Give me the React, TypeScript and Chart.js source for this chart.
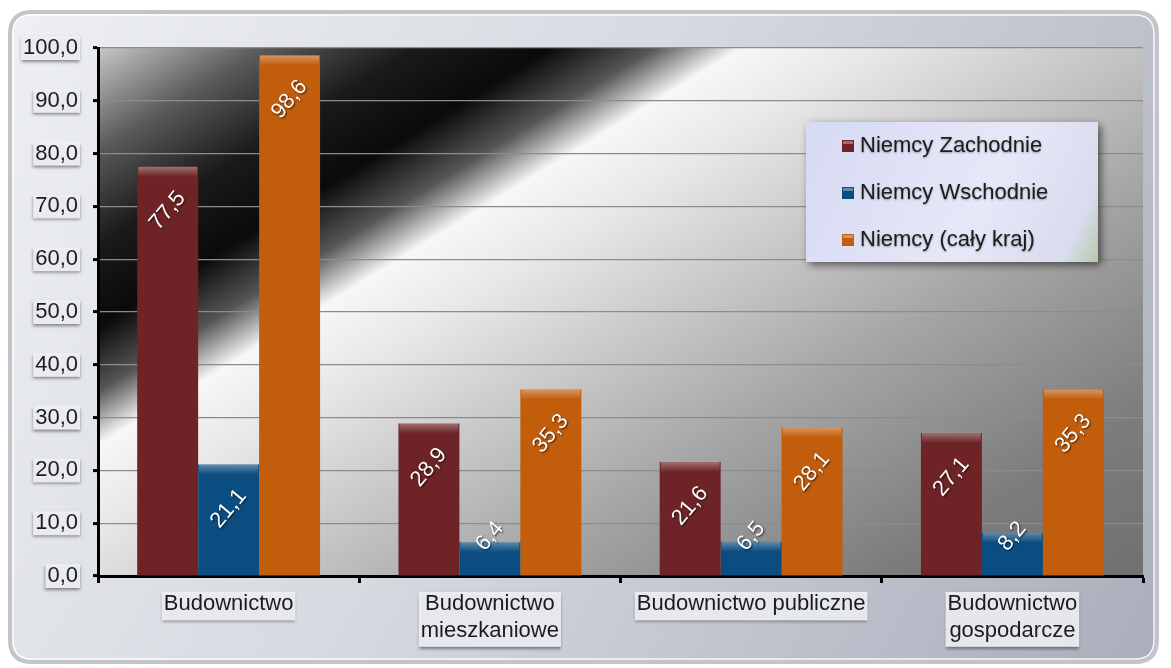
import React, { useEffect, useRef } from "react";
import { Chart, registerables } from "chart.js";

Chart.register(...registerables);

const categories: (string | string[])[] = [
  "Budownictwo",
  ["Budownictwo", "mieszkaniowe"],
  "Budownictwo publiczne",
  ["Budownictwo", "gospodarcze"],
];
const seriesNames = ["Niemcy Zachodnie", "Niemcy Wschodnie", "Niemcy (cały kraj)"];
const westValues = [77.5, 28.9, 21.6, 27.1];
const eastValues = [21.1, 6.4, 6.5, 8.2];
const totalValues = [98.6, 35.3, 28.1, 35.3];
const seriesColors = ["#6e2426", "#0b4d80", "#c25d0b"];
const yMin = 0;
const yMax = 100;
const yStep = 10;

const FONT = "'Liberation Sans', Arial, sans-serif";
const fmt = (v: number) => v.toFixed(1).replace(".", ",");

function roundRectPath(ctx: CanvasRenderingContext2D, x: number, y: number, w: number, h: number, r: number) {
  ctx.beginPath();
  ctx.moveTo(x + r, y);
  ctx.lineTo(x + w - r, y);
  ctx.quadraticCurveTo(x + w, y, x + w, y + r);
  ctx.lineTo(x + w, y + h - r);
  ctx.quadraticCurveTo(x + w, y + h, x + w - r, y + h);
  ctx.lineTo(x + r, y + h);
  ctx.quadraticCurveTo(x, y + h, x, y + h - r);
  ctx.lineTo(x, y + r);
  ctx.quadraticCurveTo(x, y, x + r, y);
  ctx.closePath();
}

const backgroundPlugin = {
  id: "bgPlugin",
  beforeDraw(chart: any) {
    const ctx: CanvasRenderingContext2D = chart.ctx;
    const { left, top, right, bottom } = chart.chartArea;
    const W = chart.width;
    const H = chart.height;
    ctx.save();
    // outer panel
    const px = 10, py = 12, pw = W - 14 - px, ph = H - 6 - py;
    const pg = ctx.createLinearGradient(0, 0, W, H);
    pg.addColorStop(0, "#eef0f3");
    pg.addColorStop(0.45, "#d6d9e0");
    pg.addColorStop(1, "#a9adbb");
    roundRectPath(ctx, px, py, pw, ph, 22);
    ctx.fillStyle = pg;
    ctx.fill();
    ctx.lineWidth = 4;
    ctx.strokeStyle = "#c2c4ca";
    ctx.stroke();
    roundRectPath(ctx, px + 3, py + 3, pw - 6, ph - 6, 19);
    ctx.lineWidth = 1.5;
    ctx.strokeStyle = "rgba(255,255,255,0.9)";
    ctx.stroke();

    // plot area gradient
    const dx = 0.525, dy = 0.851;
    const g = ctx.createLinearGradient(92 * dx, 92 * dy, 1090 * dx, 1090 * dy);
    g.addColorStop(0, "#c8c8c8");
    g.addColorStop(0.088, "#5a5a5a");
    g.addColorStop(0.168, "#1a1a1a");
    g.addColorStop(0.238, "#0a0a0a");
    g.addColorStop(0.293, "#555555");
    g.addColorStop(0.339, "#f7f7f7");
    g.addColorStop(0.409, "#e8e8e8");
    g.addColorStop(0.509, "#cdcdcd");
    g.addColorStop(0.66, "#a6a6a6");
    g.addColorStop(0.86, "#7c7c7c");
    g.addColorStop(1, "#707070");
    ctx.fillStyle = g;
    ctx.fillRect(left, top, right - left, bottom - top);

    // label boxes behind tick labels
    ctx.font = `22px ${FONT}`;
    const ys = chart.scales.y;
    const labelRight = left - 5 - 15;
    ys.ticks.forEach((t: any, i: number) => {
      const y = ys.getPixelForTick(i);
      const w = ctx.measureText(fmt(t.value)).width;
      ctx.save();
      ctx.shadowColor = "rgba(0,0,0,0.45)";
      ctx.shadowBlur = 3;
      ctx.shadowOffsetY = 2;
      ctx.fillStyle = "rgba(238,240,244,0.95)";
      ctx.fillRect(labelRight - w - 2, y - 12, w + 4, 24);
      ctx.restore();
    });
    const xs = chart.scales.x;
    xs.ticks.forEach((t: any, i: number) => {
      const x = xs.getPixelForTick(i);
      const lab = categories[i];
      const lines = Array.isArray(lab) ? lab : [lab];
      const w = Math.max(...lines.map((l) => ctx.measureText(l).width));
      ctx.save();
      ctx.shadowColor = "rgba(0,0,0,0.45)";
      ctx.shadowBlur = 3;
      ctx.shadowOffsetY = 2;
      ctx.fillStyle = "rgba(236,238,243,0.95)";
      ctx.fillRect(x - w / 2 - 2, bottom + 16, w + 4, lines.length * 26.4 + 2);
      ctx.restore();
    });
    ctx.restore();
  },
};

const barDecorPlugin = {
  id: "barDecor",
  afterDatasetsDraw(chart: any) {
    const ctx: CanvasRenderingContext2D = chart.ctx;
    ctx.save();
    chart.data.datasets.forEach((ds: any, di: number) => {
      const meta = chart.getDatasetMeta(di);
      meta.data.forEach((el: any, i: number) => {
        const w = el.width;
        const x0 = el.x - w / 2;
        // top bevel highlight
        const hg = ctx.createLinearGradient(0, el.y, 0, el.y + 10);
        hg.addColorStop(0, "rgba(255,255,255,0.35)");
        hg.addColorStop(1, "rgba(255,255,255,0)");
        ctx.fillStyle = hg;
        ctx.fillRect(x0 + 1, el.y, w - 2, Math.min(10, el.base - el.y));
        // value label
        const v = ds.data[i];
        const cy = Math.min(el.y + 44, el.base - 39);
        ctx.save();
        ctx.translate(el.x, cy);
        ctx.rotate((-50 * Math.PI) / 180);
        ctx.font = `22px ${FONT}`;
        ctx.textAlign = "center";
        ctx.textBaseline = "middle";
        ctx.shadowColor = "rgba(0,0,0,0.7)";
        ctx.shadowBlur = 2;
        ctx.shadowOffsetX = 1;
        ctx.shadowOffsetY = 1;
        ctx.fillStyle = "#ffffff";
        ctx.fillText(fmt(v), 0, 0);
        ctx.restore();
      });
    });
    ctx.restore();
  },
};

const legendPlugin = {
  id: "customLegend",
  afterDraw(chart: any) {
    const ctx: CanvasRenderingContext2D = chart.ctx;
    const bx = 806, by = 122, bw = 292, bh = 140;
    ctx.save();
    ctx.shadowColor = "rgba(0,0,0,0.55)";
    ctx.shadowBlur = 8;
    ctx.shadowOffsetX = 3;
    ctx.shadowOffsetY = 3;
    const lg = ctx.createLinearGradient(bx, by, bx + bw, by + bh);
    lg.addColorStop(0, "#d6daf2");
    lg.addColorStop(0.6, "#e6e8f8");
    lg.addColorStop(0.9, "#d8dcee");
    lg.addColorStop(1, "#b8c8a8");
    ctx.fillStyle = lg;
    ctx.fillRect(bx, by, bw, bh);
    ctx.restore();
    ctx.save();
    ctx.font = `22px ${FONT}`;
    ctx.textBaseline = "middle";
    chart.data.datasets.forEach((ds: any, i: number) => {
      const cy = by + 24 + i * 47;
      ctx.fillStyle = ds.backgroundColor;
      ctx.fillRect(bx + 36, cy - 6, 12, 12);
      ctx.fillStyle = "rgba(255,255,255,0.35)";
      ctx.fillRect(bx + 37, cy - 5, 10, 3);
      ctx.shadowColor = "rgba(0,0,0,0.35)";
      ctx.shadowBlur = 2;
      ctx.shadowOffsetY = 1;
      ctx.fillStyle = "#1c1c1c";
      ctx.fillText(ds.label, bx + 54, cy);
      ctx.shadowColor = "transparent";
    });
    ctx.restore();
  },
};

export default function App() {
  const canvasRef = useRef<HTMLCanvasElement | null>(null);

  useEffect(() => {
    if (!canvasRef.current) return;
    const chart = new Chart(canvasRef.current, {
      type: "bar",
      data: {
        labels: categories,
        datasets: [
          { label: seriesNames[0], data: westValues, backgroundColor: seriesColors[0] },
          { label: seriesNames[1], data: eastValues, backgroundColor: seriesColors[1] },
          { label: seriesNames[2], data: totalValues, backgroundColor: seriesColors[2] },
        ],
      },
      options: {
        responsive: false,
        animation: false,
        devicePixelRatio: 1,
        datasets: { bar: { categoryPercentage: 0.7, barPercentage: 1.0 } },
        layout: { padding: { left: 0, right: 28, top: 48, bottom: 0 } },
        plugins: {
          legend: { display: false },
          tooltip: { enabled: false },
          title: { display: false },
        },
        scales: {
          x: {
            afterFit: (s: any) => {
              s.height = 92;
            },
            grid: {
              display: true,
              drawOnChartArea: false,
              drawTicks: true,
              tickLength: 7,
              tickColor: "#000",
              tickWidth: 3,
              offset: true,
            },
            border: { display: true, color: "#000", width: 3 },
            ticks: {
              color: "#1c1c1c",
              font: { family: FONT, size: 22 },
              padding: 8,
              maxRotation: 0,
              autoSkip: false,
            },
          },
          y: {
            min: yMin,
            max: yMax,
            afterFit: (s: any) => {
              s.width = 98;
            },
            grid: {
              color: "#8c8c8c",
              lineWidth: 1.2,
              tickLength: 5,
              tickColor: "#000",
              tickWidth: 3,
            },
            border: { display: true, color: "#000", width: 3 },
            ticks: {
              stepSize: yStep,
              color: "#1c1c1c",
              font: { family: FONT, size: 22 },
              padding: 15,
              callback: (v: any) => fmt(Number(v)),
            },
          },
        },
      },
      plugins: [backgroundPlugin, barDecorPlugin, legendPlugin],
    });
    return () => chart.destroy();
  }, []);

  return (
    <div style={{ position: "absolute", left: 0, top: 0, width: 1171, height: 668, background: "#ffffff" }}>
      <canvas ref={canvasRef} width={1171} height={668} style={{ width: 1171, height: 668, display: "block" }} />
    </div>
  );
}
